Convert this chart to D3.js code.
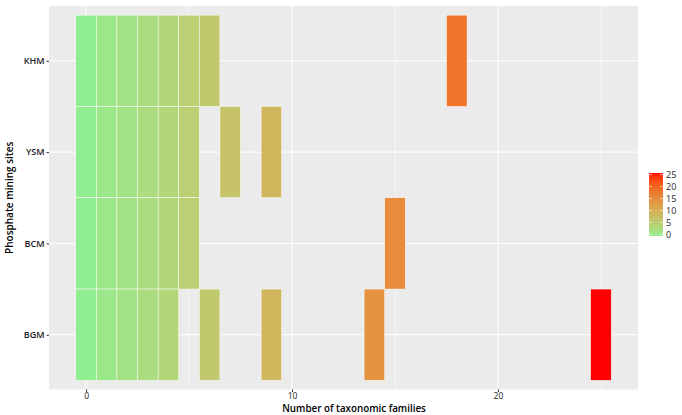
<!DOCTYPE html>
<html>
<head>
<meta charset="utf-8">
<script src="https://cdn.jsdelivr.net/npm/d3@7"></script>
<style>
  body { margin: 0; background: #fff; }
  text { font-family: "Open Sans", sans-serif; }
</style>
</head>
<body>
<script>
// sites on the y axis, top to bottom
const sites = ["KHM", "YSM", "BCM", "BGM"];
// family counts (x positions) present at each site
const khmFamilies = [0, 1, 2, 3, 4, 5, 6, 18];
const ysmFamilies = [0, 1, 2, 3, 4, 5, 7, 9];
const bcmFamilies = [0, 1, 2, 3, 4, 5, 15];
const bgmFamilies = [0, 1, 2, 3, 4, 6, 9, 14, 25];
const xTicks = [0, 10, 20];
const legendTicks = [0, 5, 10, 15, 20, 25];

const cells = [];
[khmFamilies, ysmFamilies, bcmFamilies, bgmFamilies].forEach((arr, i) => {
    arr.forEach(v => cells.push({ site: sites[i], x: v }));
});

const W = 682, H = 415;
const margin = { top: 6, right: 45, bottom: 26, left: 49 };
const width = 638 - margin.left;
const height = 389.5 - margin.top;

const svg = d3.select("body").append("svg")
    .attr("width", W)
    .attr("height", H);

const g = svg.append("g")
    .attr("transform", `translate(${margin.left},${margin.top})`);

// x: tiles from -0.5 to 25.5 with 5% expansion
const x = d3.scaleLinear()
    .domain([-1.8, 26.8])
    .range([0, width]);

// y: discrete with 0.6 unit expansion
const y = d3.scalePoint()
    .domain(sites)
    .range([0, height])
    .padding(0.6);
const step = y.step();

const color = d3.scaleLinear()
    .domain([0, 25])
    .range(["lightgreen", "red"])
    .interpolate(d3.interpolateLab);

// panel background
g.append("rect")
    .attr("width", width)
    .attr("height", height)
    .attr("fill", "#EBEBEB");

// minor grid
g.selectAll(".minor")
    .data([5, 15, 25])
    .enter().append("line")
    .attr("x1", d => x(d)).attr("x2", d => x(d))
    .attr("y1", 0).attr("y2", height)
    .attr("stroke", "#fff").attr("stroke-width", 0.5);

// major grid
g.selectAll(".vmajor")
    .data(xTicks)
    .enter().append("line")
    .attr("x1", d => x(d)).attr("x2", d => x(d))
    .attr("y1", 0).attr("y2", height)
    .attr("stroke", "#fff").attr("stroke-width", 1);

g.selectAll(".hmajor")
    .data(sites)
    .enter().append("line")
    .attr("x1", 0).attr("x2", width)
    .attr("y1", d => y(d)).attr("y2", d => y(d))
    .attr("stroke", "#fff").attr("stroke-width", 1);

// tiles
g.selectAll(".tile")
    .data(cells)
    .enter().append("rect")
    .attr("x", d => x(d.x - 0.5))
    .attr("y", d => y(d.site) - step / 2)
    .attr("width", x(1) - x(0))
    .attr("height", step)
    .attr("fill", d => color(d.x))
    .attr("stroke", "#fff")
    .attr("stroke-width", 0.5);

// axes
const xAxis = g.append("g")
    .attr("transform", `translate(0,${height})`)
    .call(d3.axisBottom(x).tickValues(xTicks).tickSize(2.5).tickPadding(0.5));
const yAxis = g.append("g")
    .call(d3.axisLeft(y).tickSize(2.5).tickPadding(2));

[xAxis, yAxis].forEach(a => {
    a.select(".domain").remove();
    a.selectAll(".tick line").attr("stroke", "#333");
});
xAxis.selectAll("text").attr("fill", "#222").style("font-size", "8.5px");
yAxis.selectAll("text").attr("fill", "#222").style("font-size", "9px").style("font-weight", "600");

// axis titles
svg.append("text")
    .attr("x", 354)
    .attr("y", 412)
    .attr("text-anchor", "middle")
    .style("font-size", "9.8px")
    .style("font-weight", "600")
    .text("Number of taxonomic families");

svg.append("text")
    .attr("transform", `translate(13,${margin.top + height / 2}) rotate(-90)`)
    .attr("text-anchor", "middle")
    .style("font-size", "10px")
    .style("font-weight", "600")
    .text("Phosphate mining sites");

// legend colourbar
const defs = svg.append("defs");
const grad = defs.append("linearGradient")
    .attr("id", "grad")
    .attr("x1", 0).attr("y1", 1).attr("x2", 0).attr("y2", 0);
d3.range(0, 26).forEach(v => {
    grad.append("stop")
        .attr("offset", v / 25)
        .attr("stop-color", color(v));
});

const lg = svg.append("g").attr("transform", "translate(649,173)");
const barH = 63, barW = 14;
lg.append("rect")
    .attr("width", barW)
    .attr("height", barH)
    .attr("fill", "url(#grad)");

const ly = d3.scaleLinear()
    .domain([0, 25])
    .range([barH - 1.6, 1.6]);

lg.selectAll(".lt")
    .data(legendTicks)
    .enter().append("line")
    .attr("x1", 0).attr("x2", 3)
    .attr("y1", d => ly(d)).attr("y2", d => ly(d))
    .attr("stroke", "#fff").attr("stroke-width", 0.6);
lg.selectAll(".lt2")
    .data(legendTicks)
    .enter().append("line")
    .attr("x1", barW - 3).attr("x2", barW)
    .attr("y1", d => ly(d)).attr("y2", d => ly(d))
    .attr("stroke", "#fff").attr("stroke-width", 0.6);

lg.selectAll(".ll")
    .data(legendTicks)
    .enter().append("text")
    .attr("x", barW + 3)
    .attr("y", d => ly(d))
    .attr("dy", "0.35em")
    .attr("fill", "#222")
    .style("font-size", "9px")
    .text(d => d);
</script>
</body>
</html>
